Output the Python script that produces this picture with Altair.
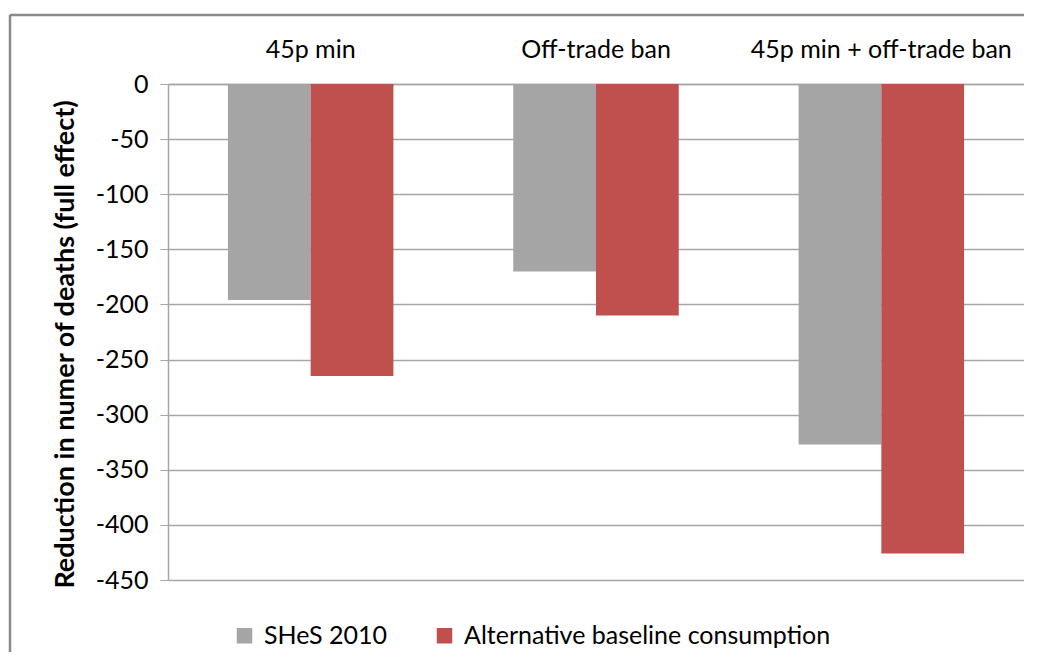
import altair as alt
import pandas as pd

categories = ["45p min", "Off-trade ban", "45p min + off-trade ban"]
series = ["SHeS 2010", "Alternative baseline consumption"]
shes_2010 = [-196, -170, -327]
alternative = [-265, -210, -426]
colors = ["#a5a5a5", "#c0504d"]
y_ticks = [0, -50, -100, -150, -200, -250, -300, -350, -400, -450]

rows = []
for c, a, b in zip(categories, shes_2010, alternative):
    rows.append({"category": c, "series": series[0], "value": a})
    rows.append({"category": c, "series": series[1], "value": b})
df = pd.DataFrame(rows)

FONT = "Lato"

bars = alt.Chart(df).mark_bar().encode(
    x=alt.X("category:N", sort=categories,
            scale=alt.Scale(paddingInner=0.42, paddingOuter=0.21),
            axis=alt.Axis(orient="top", title=None, labelAngle=0, ticks=False,
                          labelPadding=22, labelFontSize=25, labelFont=FONT,
                          labelLimit=600,
                          labelColor="#000000", domainColor="#a6a6a6",
                          domainWidth=1.5)),
    xOffset=alt.XOffset("series:N", sort=series),
    y=alt.Y("value:Q", scale=alt.Scale(domain=[-450, 0], nice=False),
            axis=alt.Axis(values=y_ticks, title="Reduction in numer of deaths (full effect)",
                          labelExpr="datum.value < 0 ? '-' + abs(datum.value) : '' + datum.value",
                          titleFont=FONT, titleFontSize=27, titleFontWeight="bold",
                          titleColor="#000000", titleAngle=-90,
                          titleX=-103, titleY=260, titleAlign="center",
                          titleBaseline="middle", titleLimit=800,
                          labelFont=FONT, labelFontSize=25, labelColor="#000000",
                          labelPadding=12, tickSize=8, tickColor="#a6a6a6",
                          domainColor="#a6a6a6", domainWidth=1.5,
                          gridColor="#a6a6a6", gridWidth=1.5)),
    color=alt.Color("series:N", sort=series,
                    scale=alt.Scale(domain=series, range=colors),
                    legend=alt.Legend(title=None, orient="none", direction="horizontal",
                                      legendX=64, legendY=539, symbolType="square",
                                      symbolSize=240, symbolStrokeWidth=0,
                                      labelFont=FONT, labelFontSize=25, labelLimit=600,
                                      labelColor="#000000", columnPadding=44,
                                      labelOffset=7)),
)

frame = pd.DataFrame({"k": [0]})
top_edge = alt.Chart(frame).mark_rule(stroke="#8a8a8a", strokeWidth=2.5, clip=False).encode(
    x=alt.value(-158), x2=alt.value(856), y=alt.value(-69))
left_edge = alt.Chart(frame).mark_rule(stroke="#8a8a8a", strokeWidth=2.5, clip=False).encode(
    x=alt.value(-158), y=alt.value(-69), y2=alt.value(568))

chart = alt.layer(bars, top_edge, left_edge).properties(
    width=856, height=496,
    autosize=alt.AutoSizeParams(type="none"),
    padding={"left": 160, "top": 76, "right": 0, "bottom": 72},
).configure_view(stroke=None).configure_axis(grid=True).configure_axisX(grid=False)

chart.save("out.html", embed_options={"renderer": "svg", "actions": False})
